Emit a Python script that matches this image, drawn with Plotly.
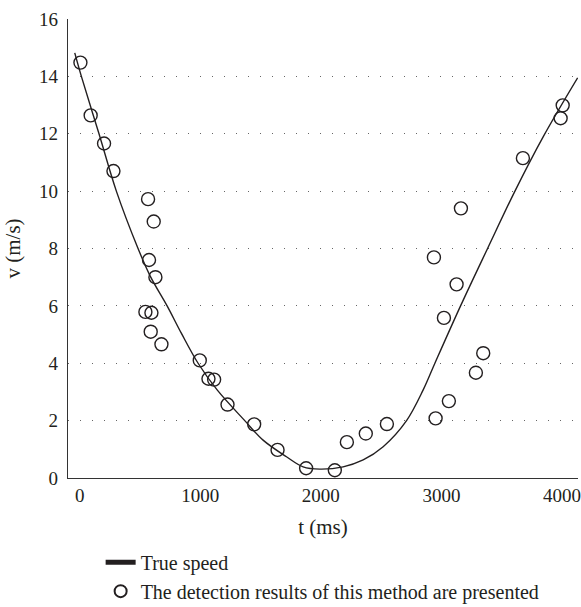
import plotly.graph_objects as go

# True speed curve (t in ms, v in m/s)
curve_t = [-41, 14, 160, 304, 484, 587, 725, 844, 982, 1140, 1369, 1521, 1715, 1853,
           1992, 2185, 2351, 2517, 2711, 2849, 2946, 3159, 3383, 3610, 3845, 4130]
curve_v = [14.82, 14.0, 12.0, 10.0, 8.0, 7.02, 6.0, 5.04, 4.0, 3.07, 2.0, 1.32, 0.74, 0.39,
           0.31, 0.39, 0.63, 1.09, 2.0, 3.07, 4.0, 6.0, 8.0, 10.0, 11.9, 13.95]

# Detection results
det_t = [6, 91, 202, 280, 567, 614, 575, 628, 545, 595, 589, 678, 996, 1068, 1115,
         1226, 1447, 1641, 1878, 2116, 2216, 2373, 2548, 2952, 3062, 3286, 3347,
         3021, 3126, 2938, 3162, 3676, 3989, 4006]
det_v = [14.48, 12.64, 11.66, 10.70, 9.72, 8.94, 7.6, 7.0, 5.79, 5.76, 5.10, 4.66,
         4.10, 3.46, 3.43, 2.56, 1.87, 0.98, 0.34, 0.27, 1.25, 1.55, 1.88, 2.08,
         2.68, 3.67, 4.35, 5.58, 6.75, 7.69, 9.40, 11.15, 12.54, 12.99]

x_ticks = [0, 1000, 2000, 3000, 4000]
y_ticks = [0, 2, 4, 6, 8, 10, 12, 14, 16]

FONT = "Liberation Serif"
INK = "#231f20"

fig = go.Figure()
fig.add_trace(go.Scatter(
    x=curve_t, y=curve_v, mode="lines", name="True speed", legendgroup="a",
    line=dict(color=INK, width=1.4, shape="spline", smoothing=1.0),
))
fig.add_trace(go.Scatter(
    x=det_t, y=det_v, mode="markers", legendgroup="b",
    name="The detection results of this method are presented",
    marker=dict(symbol="circle-open", size=13, color=INK, line=dict(width=1.4, color=INK)),
))

fig.update_layout(
    width=581, height=607,
    margin=dict(l=68, r=3, t=19, b=129),
    paper_bgcolor="white", plot_bgcolor="white",
    font=dict(family=FONT, size=19, color=INK),
    showlegend=True,
    legend=dict(x=0.064, y=0.106, xanchor="left", yanchor="top", yref="container",
                bgcolor="rgba(0,0,0,0)", font=dict(size=20, family=FONT, color=INK),
                traceorder="normal", tracegroupgap=1, itemsizing="constant"),
)
fig.update_xaxes(
    range=[-97, 4133], tickvals=x_ticks, ticktext=[str(v) for v in x_ticks],
    showgrid=False, zeroline=False, showline=True, linecolor="#333333", linewidth=1.4,
    ticks="", automargin=False,
    title=dict(text="t (ms)", standoff=14, font=dict(size=21)),
)
fig.update_yaxes(
    range=[0, 16], tickvals=y_ticks, ticktext=[str(v) for v in y_ticks],
    showgrid=True, gridcolor="#666666", gridwidth=1.2, griddash="1px,11px",
    zeroline=False, showline=True, linecolor="#333333", linewidth=1.4,
    ticks="", automargin=False, ticklabelstandoff=5,
    title=dict(text="v (m/s)", standoff=12, font=dict(size=21)),
)

fig.write_html("out.html", config={"displayModeBar": False},
               post_script="document.body.style.margin='0';")
